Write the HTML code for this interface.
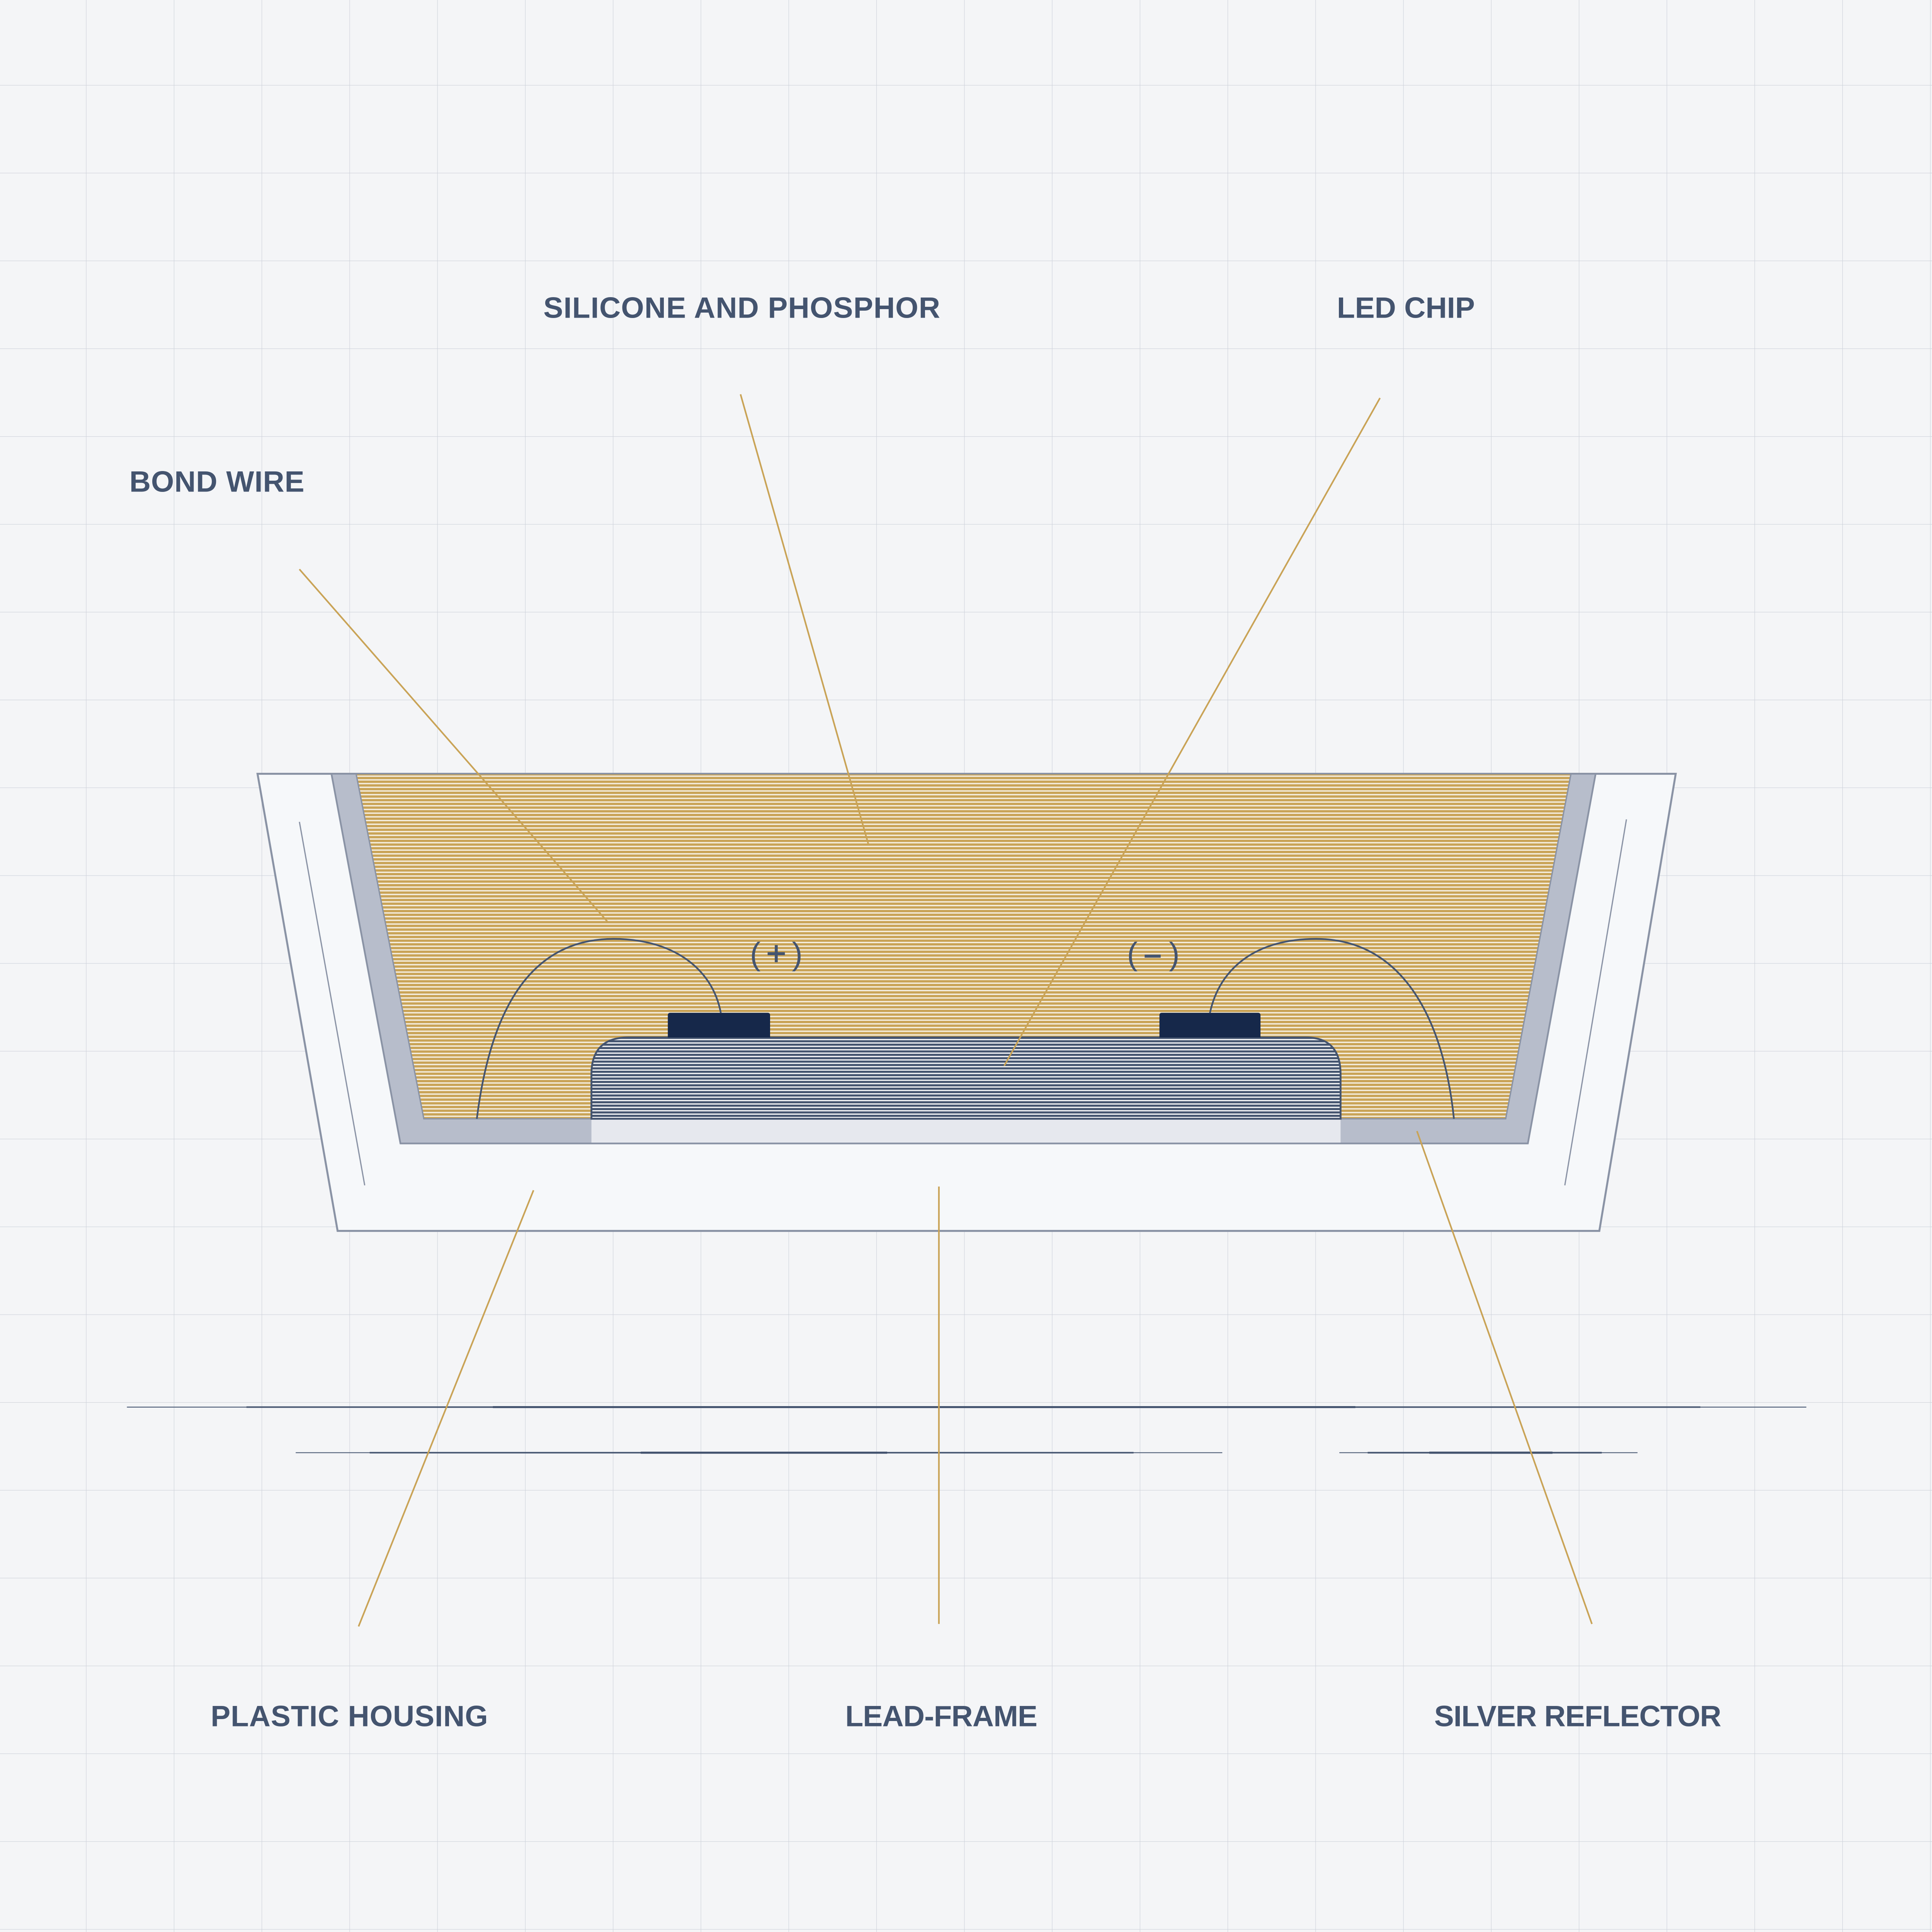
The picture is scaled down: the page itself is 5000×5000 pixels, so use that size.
<!DOCTYPE html>
<html><head><meta charset="utf-8"><style>
html,body{margin:0;padding:0;background:#f4f5f7;}
svg{display:block;}
text{font-family:"Liberation Sans",sans-serif;font-weight:bold;fill:#44546f;}
text.thin{font-weight:normal;}
</style></head><body>
<svg width="5000" height="5000" viewBox="0 0 1568 1568" xmlns="http://www.w3.org/2000/svg">
<defs>
<pattern id="gold" width="10" height="3.0" patternUnits="userSpaceOnUse" y="0.5">
<rect width="10" height="3" fill="#f5efe2"/>
<rect width="10" height="1.9" fill="#c9a356"/>
</pattern>
<pattern id="blue" width="10" height="2.75" patternUnits="userSpaceOnUse" y="0">
<rect width="10" height="2.75" fill="#f4f5f7"/>
<rect width="10" height="1.7" fill="#44546f"/>
</pattern>
<pattern id="grid" width="71.27" height="71.27" patternUnits="userSpaceOnUse" x="69.8" y="69">
<rect width="71.27" height="71.27" fill="#f4f5f7"/>
<path d="M0 0H71.27M0 0V71.27" stroke="#cdd1da" stroke-width="0.7" fill="none"/>
</pattern>
</defs>
<rect width="1568" height="1568" fill="url(#grid)"/>

<path d="M103 1142H1466" stroke="#44546f" stroke-width="0.7"/>
<path d="M200 1142H1380" stroke="#44546f" stroke-width="1.2"/>
<path d="M400 1142H1100" stroke="#44546f" stroke-width="1.6"/>
<path d="M240 1179H992" stroke="#44546f" stroke-width="0.7"/>
<path d="M300 1179H920" stroke="#44546f" stroke-width="1.2"/>
<path d="M520 1179H720" stroke="#44546f" stroke-width="1.7"/>
<path d="M1087 1179H1329" stroke="#44546f" stroke-width="0.7"/>
<path d="M1110 1179H1300" stroke="#44546f" stroke-width="1.3"/>
<path d="M1160 1179H1260" stroke="#44546f" stroke-width="1.8"/>

<polygon points="209,628 1360,628 1298,999 274,999" fill="#f6f8fa" stroke="#8a93a5" stroke-width="1.6"/>
<line x1="243" y1="667" x2="296" y2="962" stroke="#8a93a5" stroke-width="1"/>
<line x1="1320" y1="665" x2="1270" y2="962" stroke="#8a93a5" stroke-width="1"/>

<polygon points="269,628 1295,628 1240,928 325,928" fill="#b7bdcb" stroke="#8a93a5" stroke-width="1.4"/>
<polygon points="289,628 1275,628 1222,908 344,908" fill="url(#gold)" stroke="#8a93a5" stroke-width="1.1"/>
<rect x="480" y="908" width="608" height="20" fill="#e6e8ee"/>
<line x1="325" y1="928" x2="1240" y2="928" stroke="#8a93a5" stroke-width="1.4"/>

<path d="M480 908V872Q480 842 510 842H1060Q1088 842 1088 872V908Z" fill="url(#blue)" stroke="#44546f" stroke-width="1.5"/>
<path d="M542 842V824Q542 822 544 822H623Q625 822 625 824V842Z" fill="#16284a"/>
<path d="M941 842V824Q941 822 943 822H1021Q1023 822 1023 824V842Z" fill="#16284a"/>

<path d="M387 908C398 820 430 762 498 762C545 762 578 785 585 822" fill="none" stroke="#44546f" stroke-width="1.4"/>
<path d="M982 822C990 785 1020 762 1068 762C1140 762 1172 830 1180 908" fill="none" stroke="#44546f" stroke-width="1.4"/>

<text class="thin" x="613" y="783" font-size="26" text-anchor="middle">(</text>
<text class="thin" x="647" y="783" font-size="26" text-anchor="middle">)</text>
<text class="thin" x="919" y="783" font-size="26" text-anchor="middle">(</text>
<text class="thin" x="953" y="783" font-size="26" text-anchor="middle">)</text>
<path d="M623 774H637M630 767V781" stroke="#44546f" stroke-width="2.4"/>
<path d="M929 776H942" stroke="#44546f" stroke-width="2.4"/>

<g stroke="#c9a356" stroke-width="1.3">
<line x1="243" y1="462" x2="493" y2="748"/>
<line x1="601" y1="320" x2="705" y2="686"/>
<line x1="1120" y1="323" x2="815" y2="865"/>
<line x1="433" y1="966" x2="291" y2="1320"/>
<line x1="762" y1="963" x2="762" y2="1318"/>
<line x1="1150" y1="918" x2="1292" y2="1318"/>
</g>

<g font-size="24">
<text x="441" y="258" textLength="322">SILICONE AND PHOSPHOR</text>
<text x="1085" y="258" textLength="112">LED CHIP</text>
<text x="105" y="399" textLength="142">BOND WIRE</text>
<text x="171" y="1401" textLength="225">PLASTIC HOUSING</text>
<text x="686" y="1401" textLength="156">LEAD-FRAME</text>
<text x="1164" y="1401" textLength="233">SILVER REFLECTOR</text>
</g>
</svg>
</body></html>
